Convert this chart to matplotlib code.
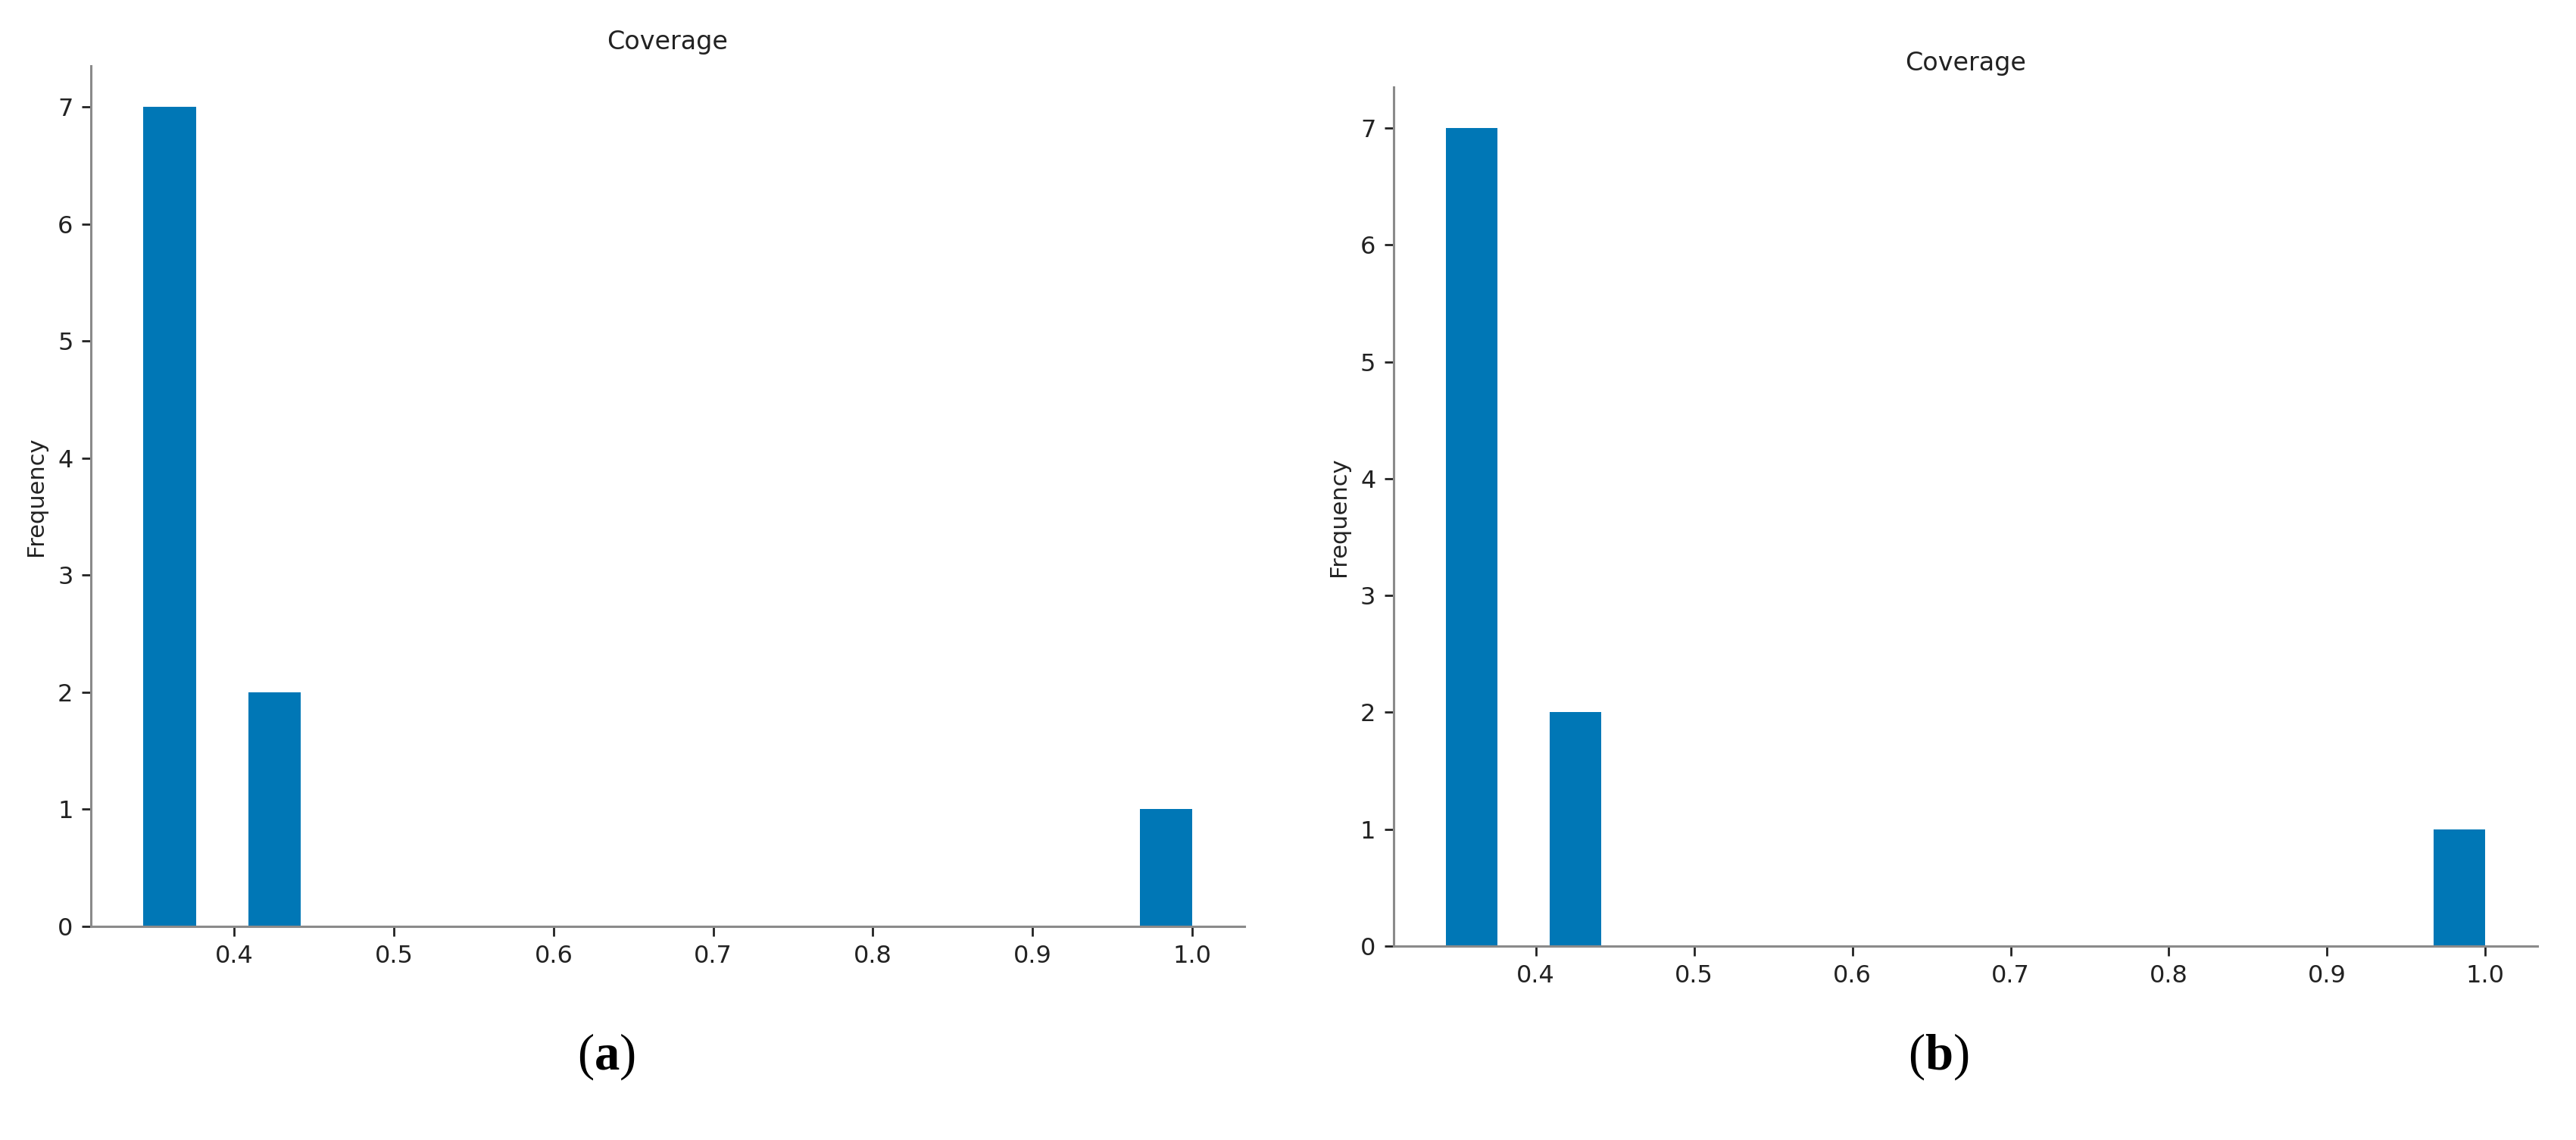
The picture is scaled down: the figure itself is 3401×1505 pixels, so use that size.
import matplotlib
matplotlib.use("Agg")
from matplotlib import pyplot as plt

# coverage values (same data in both panels)
coverage_a = [0.343, 0.35, 0.352, 0.36, 0.362, 0.365, 0.37, 0.41, 0.425, 1.0]
coverage_b = [0.343, 0.35, 0.352, 0.36, 0.362, 0.365, 0.37, 0.41, 0.425, 1.0]
n_bins = 20
captions = ["a", "b"]

plt.rcParams["mathtext.fontset"] = "custom"
plt.rcParams["mathtext.rm"] = "Liberation Serif"
plt.rcParams["mathtext.bf"] = "Liberation Serif:bold"

bar_color = "#0077B6"
spine_color = "#8a8a8a"

fig = plt.figure(figsize=(34.01, 15.05), dpi=100)

ax1 = fig.add_axes([0.0353, 0.1874, 0.4478, 0.7548])
ax2 = fig.add_axes([0.5410, 0.1701, 0.4440, 0.7535])

for ax, data in [(ax1, coverage_a), (ax2, coverage_b)]:
    ax.hist(data, bins=n_bins, color=bar_color)
    ax.set_title("Coverage", fontsize=24, pad=16, color="#222222")
    ax.set_ylabel("Frequency", fontsize=22, labelpad=10, color="#222222")
    ax.spines["top"].set_visible(False)
    ax.spines["right"].set_visible(False)
    for s in ["left", "bottom"]:
        ax.spines[s].set_color(spine_color)
        ax.spines[s].set_linewidth(2.2)
    ax.tick_params(labelsize=23, length=9, width=2, colors="#222222", pad=8)
    ax.set_xticks([0.4, 0.5, 0.6, 0.7, 0.8, 0.9, 1.0])

fig.text(800 / 3401, 1 - 1395 / 1505, r"($\mathbf{" + captions[0] + r"}$)",
         fontsize=48, family="Liberation Serif", ha="center", va="center")
fig.text(2559 / 3401, 1 - 1395 / 1505, r"($\mathbf{" + captions[1] + r"}$)",
         fontsize=48, family="Liberation Serif", ha="center", va="center")

fig.savefig("out.png", dpi=100)
